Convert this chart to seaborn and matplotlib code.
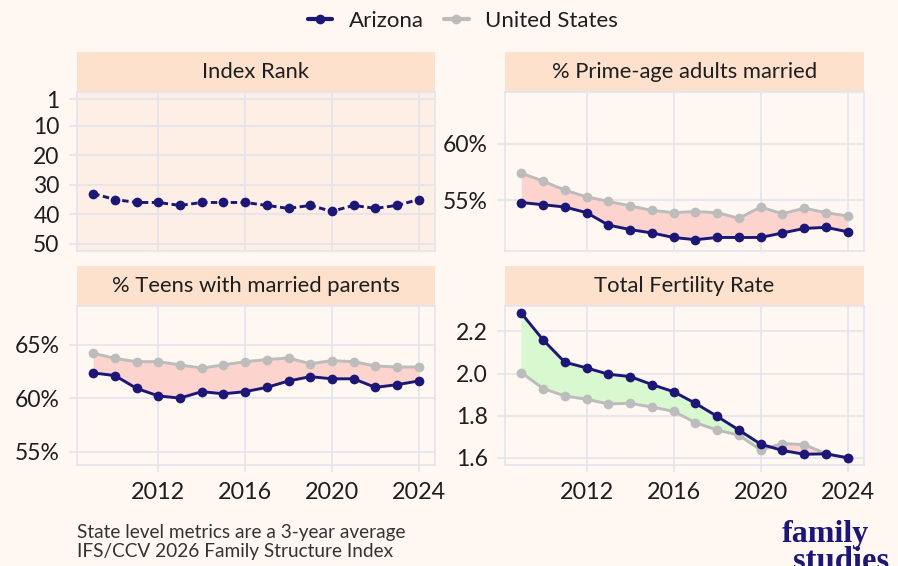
import numpy as np
import pandas as pd
import seaborn as sns
import matplotlib.pyplot as plt
from matplotlib.patches import Rectangle
from matplotlib.lines import Line2D

# data
years = list(range(2009, 2025))

rank_az = [33, 35, 36, 36, 37, 36, 36, 36, 37, 38, 37, 39, 37, 38, 37, 35]

married_az = [54.8, 54.6, 54.4, 53.9, 52.8, 52.4, 52.1, 51.7, 51.5, 51.7, 51.7, 51.7, 52.1, 52.5, 52.6, 52.2]
married_us = [57.4, 56.7, 55.9, 55.3, 54.9, 54.5, 54.1, 53.9, 54.0, 53.9, 53.4, 54.4, 53.8, 54.3, 53.9, 53.6]

teens_az = [62.35, 62.1, 60.9, 60.2, 60.0, 60.6, 60.4, 60.6, 61.0, 61.6, 62.0, 61.8, 61.8, 61.0, 61.25, 61.6]
teens_us = [64.2, 63.7, 63.4, 63.4, 63.1, 62.8, 63.1, 63.4, 63.6, 63.75, 63.2, 63.5, 63.4, 63.0, 62.9, 62.9]

tfr_az = [2.287, 2.16, 2.054, 2.027, 1.997, 1.986, 1.948, 1.914, 1.859, 1.797, 1.732, 1.665, 1.635, 1.617, 1.619, 1.600]
tfr_us = [2.005, 1.929, 1.894, 1.878, 1.856, 1.859, 1.841, 1.821, 1.767, 1.732, 1.708, 1.637, 1.668, 1.663, 1.620, 1.600]

navy = "#1c1676"
grey = "#bcbcbc"
bg = "#fef7f2"
strip = "#fde1cd"
grid = "#e4e4ec"
pink = "#fdd3cd"
green = "#d8f8d0"

sns.set_theme(style="white")
plt.rcParams['font.family'] = ['Lato', 'DejaVu Sans']
plt.rcParams['text.color'] = '#1e1e1e'
plt.rcParams['xtick.color'] = '#1e1e1e'
plt.rcParams['ytick.color'] = '#1e1e1e'

fig = plt.figure(figsize=(8.98, 5.66), dpi=100, facecolor=bg)

W, H = 898, 566
def make_ax(x0, y0, x1, y1):
    return fig.add_axes([x0 / W, 1 - y1 / H, (x1 - x0) / W, (y1 - y0) / H])

ax_rank = make_ax(77, 92, 435, 251)
ax_married = make_ax(505, 92, 864, 251)
ax_teens = make_ax(77, 306, 435, 465)
ax_tfr = make_ax(505, 306, 864, 465)

MS = 7
LW = 2.1

def style(ax, title, show_x):
    ax.set_facecolor(bg)
    for s in ax.spines.values():
        s.set_color(grid)
        s.set_linewidth(1.2)
    ax.grid(True, color=grid, linewidth=1.2)
    ax.set_axisbelow(True)
    ax.set_xlim(2008.25, 2024.75)
    ax.set_xticks([2012, 2016, 2020, 2024])
    ax.tick_params(axis='y', length=5.5, width=1.2, color=grid, labelsize=16.5, pad=7,
                   left=True, labelcolor='#1e1e1e')
    if show_x:
        ax.tick_params(axis='x', length=5, width=1.2, color=grid, labelsize=16.8, pad=7,
                       bottom=True, labelcolor='#1e1e1e')
    else:
        ax.tick_params(axis='x', length=0, labelbottom=False)
    ax.set_xlabel("")
    ax.set_ylabel("")
    ax.add_patch(Rectangle((0, 1), 1, 40 / 159, transform=ax.transAxes,
                           facecolor=strip, edgecolor='none', clip_on=False))
    ax.text(0.5, 1 + 20 / 159, title, transform=ax.transAxes, ha='center', va='center',
            fontsize=15.8)

def pair_plot(ax, az, us):
    df = pd.DataFrame({'year': years * 2, 'value': us + az,
                       'place': ['United States'] * len(years) + ['Arizona'] * len(years)})
    y_az = np.array(az)
    y_us = np.array(us)
    ax.fill_between(years, y_az, y_us, where=y_us >= y_az, interpolate=True,
                    color=pink, linewidth=0)
    ax.fill_between(years, y_az, y_us, where=y_az >= y_us, interpolate=True,
                    color=green, linewidth=0)
    sns.lineplot(data=df, x='year', y='value', hue='place',
                 hue_order=['United States', 'Arizona'],
                 palette={'United States': grey, 'Arizona': navy},
                 marker='o', markersize=MS, markeredgewidth=0, linewidth=LW,
                 legend=False, ax=ax)

def pct(ax):
    ax.set_yticklabels([f"{int(t)}%" for t in ax.get_yticks()])

# Index Rank
df_rank = pd.DataFrame({'year': years, 'value': rank_az})
sns.lineplot(data=df_rank, x='year', y='value', color=navy, marker='o', markersize=MS,
             markeredgewidth=0, linewidth=LW, linestyle=(0, (2.2, 1.2)), ax=ax_rank)
style(ax_rank, "Index Rank", False)
ax_rank.set_facecolor("#fdefe5")
ax_rank.set_ylim(52.45, -1.45)
ax_rank.set_yticks([1, 10, 20, 30, 40, 50])

# Prime-age married
pair_plot(ax_married, married_az, married_us)
style(ax_married, "% Prime-age adults married", False)
ax_married.set_ylim(50.5, 64.6)
ax_married.set_yticks([55, 60])
pct(ax_married)

# Teens with married parents
pair_plot(ax_teens, teens_az, teens_us)
style(ax_teens, "% Teens with married parents", True)
ax_teens.set_ylim(53.75, 68.6)
ax_teens.set_yticks([55, 60, 65])
pct(ax_teens)

# Total fertility rate
pair_plot(ax_tfr, tfr_az, tfr_us)
style(ax_tfr, "Total Fertility Rate", True)
ax_tfr.set_ylim(1.566, 2.321)
ax_tfr.set_yticks([1.6, 1.8, 2.0, 2.2])
ax_tfr.set_yticklabels(["1.6", "1.8", "2.0", "2.2"])

# legend
handles = [Line2D([], [], color=navy, marker='o', markersize=MS, markeredgewidth=0, linewidth=3),
           Line2D([], [], color=grey, marker='o', markersize=MS, markeredgewidth=0, linewidth=3)]
fig.legend(handles, ['Arizona', 'United States'], loc='center',
           bbox_to_anchor=(463 / W, 1 - 21 / H),
           ncol=2, frameon=False, fontsize=16, handlelength=1.1, handletextpad=0.75,
           columnspacing=0.9)

# footer
fig.text(77 / W, 1 - 538 / H, "State level metrics are a 3-year average", fontsize=13.7,
         va='baseline', color='#333333')
fig.text(77 / W, 1 - 557 / H, "IFS/CCV 2026 Family Structure Index", fontsize=13.7,
         va='baseline', color='#333333')
fig.text(782 / W, 1 - 542 / H, "family", family='Liberation Serif', fontweight='bold',
         fontsize=23, color=navy, va='baseline')
fig.text(793 / W, 1 - 570 / H, "studies", family='Liberation Serif', fontweight='bold',
         fontsize=23.5, color=navy, va='baseline')

fig.savefig("out.png", dpi=100, facecolor=bg)
